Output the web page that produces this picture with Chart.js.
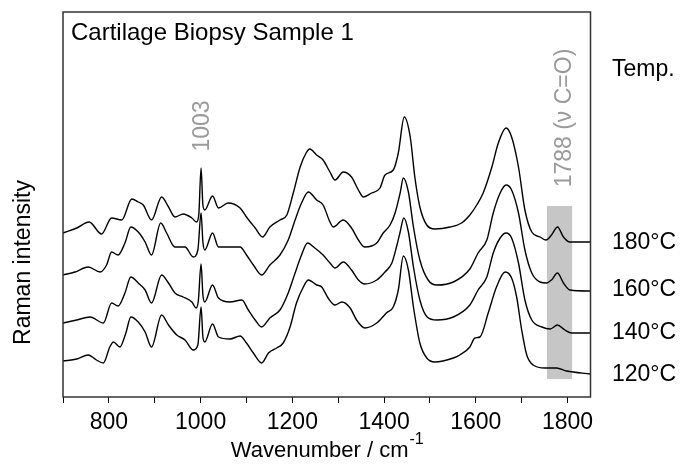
<!DOCTYPE html>
<html>
<head>
<meta charset="utf-8">
<script src="https://cdn.jsdelivr.net/npm/chart.js@4.4.1/dist/chart.umd.min.js"></script>
<style>
  html, body { margin: 0; padding: 0; background: #fff; }
</style>
</head>
<body>
<canvas id="spectra" width="684" height="472"></canvas>
<script>
  // Wavenumber (cm-1) and intensity (a.u., offset traces)
  const wn180 = [700, 730, 757, 784, 806, 828, 850, 864, 875, 893, 915, 930, 944, 962, 981, 991, 996, 1001, 1005, 1009, 1026, 1039, 1060, 1086, 1100, 1119, 1135, 1151, 1173, 1188, 1202, 1217, 1230, 1238, 1253, 1267, 1282, 1293, 1311, 1329, 1344, 1355, 1373, 1391, 1402, 1420, 1431, 1444, 1457, 1467, 1478, 1493, 1511, 1544, 1569, 1587, 1602, 1616, 1635, 1649, 1666, 1678, 1693, 1707, 1722, 1740, 1753, 1765, 1778, 1791, 1805, 1850];
  const int180 = [164, 169, 175, 163, 179, 177, 198, 195, 192, 177, 200, 190, 180, 183, 179, 175, 182, 229, 192, 187, 201, 189, 194, 189, 180, 169, 160, 170, 177, 182, 204, 230, 244, 248, 242, 237, 225, 217, 225, 220, 207, 200, 204, 209, 222, 227, 244, 280, 260, 220, 190, 172, 168, 170, 174, 182, 192, 204, 230, 254, 269, 260, 230, 187, 165, 160, 157, 162, 170, 160, 155, 155];

  const wn160 = [700, 726, 755, 781, 795, 806, 820, 835, 848, 864, 879, 893, 913, 926, 944, 966, 984, 994, 1001, 1005, 1009, 1026, 1039, 1064, 1086, 1100, 1115, 1133, 1151, 1173, 1191, 1206, 1220, 1235, 1253, 1267, 1282, 1289, 1311, 1329, 1344, 1358, 1384, 1398, 1413, 1424, 1435, 1442, 1453, 1464, 1478, 1496, 1515, 1551, 1587, 1605, 1624, 1638, 1653, 1666, 1678, 1693, 1707, 1722, 1740, 1754, 1765, 1778, 1791, 1805, 1850];
  const int160 = [122, 125, 130, 125, 132, 145, 142, 154, 170, 165, 155, 142, 174, 164, 150, 150, 140, 147, 184, 155, 147, 164, 150, 150, 150, 142, 132, 122, 132, 142, 157, 177, 194, 205, 197, 192, 175, 170, 177, 169, 157, 150, 154, 164, 172, 184, 204, 219, 205, 170, 137, 117, 112, 115, 128, 144, 157, 184, 204, 212, 207, 184, 147, 124, 115, 114, 117, 124, 114, 107, 106];

  const wn140 = [700, 730, 759, 788, 806, 820, 835, 848, 864, 879, 893, 915, 930, 944, 962, 981, 990, 995, 1001, 1005, 1009, 1026, 1039, 1064, 1090, 1104, 1119, 1133, 1151, 1173, 1191, 1206, 1220, 1233, 1249, 1267, 1282, 1293, 1311, 1329, 1344, 1358, 1384, 1402, 1417, 1427, 1435, 1443, 1453, 1464, 1478, 1494, 1515, 1551, 1587, 1605, 1624, 1638, 1653, 1666, 1678, 1693, 1707, 1722, 1744, 1762, 1778, 1794, 1809, 1850];
  const int140 = [74, 77, 80, 74, 94, 91, 104, 120, 114, 107, 94, 122, 114, 104, 100, 95, 89, 96, 133, 102, 95, 112, 99, 95, 97, 87, 77, 70, 79, 87, 104, 124, 142, 154, 149, 142, 134, 129, 135, 127, 117, 113, 117, 125, 134, 150, 165, 179, 165, 130, 97, 80, 77, 80, 92, 107, 120, 144, 159, 164, 159, 134, 97, 77, 70, 68, 72, 67, 64, 64];

  const wn120 = [700, 730, 755, 773, 788, 802, 810, 824, 837, 848, 864, 879, 893, 915, 930, 948, 966, 984, 994, 1001, 1005, 1009, 1026, 1039, 1064, 1086, 1100, 1115, 1133, 1148, 1166, 1180, 1195, 1209, 1224, 1235, 1253, 1264, 1278, 1293, 1308, 1326, 1340, 1358, 1384, 1405, 1420, 1431, 1442, 1453, 1464, 1478, 1493, 1511, 1551, 1565, 1587, 1598, 1609, 1627, 1645, 1664, 1678, 1689, 1700, 1711, 1725, 1751, 1776, 1798, 1850];
  const int120 = [36, 38, 42, 37, 34, 50, 55, 50, 64, 80, 75, 65, 50, 82, 72, 62, 57, 47, 52, 90, 60, 55, 73, 60, 58, 61, 54, 44, 34, 44, 49, 54, 70, 94, 110, 117, 112, 110, 99, 92, 95, 89, 77, 69, 74, 84, 90, 107, 141, 127, 90, 54, 39, 35, 39, 42, 50, 59, 60, 84, 110, 125, 119, 100, 67, 42, 32, 29, 29, 26, 23];

  const xTicks = [700, 800, 900, 1000, 1100, 1200, 1300, 1400, 1500, 1600, 1700, 1800];
  const tempLabels = ["180°C", "160°C", "140°C", "120°C"];

  // highlighted C=O band
  const bandFrom = 1755, bandTo = 1810, bandLow = 18, bandHigh = 191;

  const FONT = '"Liberation Sans", Arial, sans-serif';

  function pairs(xs, ys) {
    return xs.map((x, i) => ({ x: x, y: ys[i] }));
  }

  const decor = {
    id: "decor",
    beforeDatasetsDraw(chart) {
      const { ctx, scales } = chart;
      const x = scales.x, y = scales.y;
      ctx.save();
      ctx.fillStyle = "#c6c6c6";
      const l = x.getPixelForValue(bandFrom), r = x.getPixelForValue(bandTo);
      const t = y.getPixelForValue(bandHigh), b = y.getPixelForValue(bandLow);
      ctx.fillRect(l, t, r - l, b - t);
      ctx.restore();
    },
    afterDraw(chart) {
      const { ctx, chartArea: a } = chart;
      ctx.save();
      // frame
      ctx.strokeStyle = "#333";
      ctx.lineWidth = 1.5;
      ctx.strokeRect(a.left, a.top, a.right - a.left, a.bottom - a.top);

      ctx.fillStyle = "#000";
      ctx.textBaseline = "alphabetic";
      ctx.font = "24px " + FONT;
      ctx.textAlign = "left";
      ctx.fillText("Cartilage Biopsy Sample 1", a.left + 8, 40);

      // right side labels
      ctx.font = "23px " + FONT;
      ctx.fillText("Temp.", 612, 76);
      const ys = [249, 296, 339, 381];
      tempLabels.forEach((s, i) => ctx.fillText(s, 612, ys[i]));

      // x axis title with superscript
      const main = "Wavenumber / cm";
      ctx.font = "22px " + FONT;
      const w1 = ctx.measureText(main).width;
      ctx.font = "16px " + FONT;
      const w2 = ctx.measureText("-1").width;
      const cx = (a.left + a.right) / 2;
      const sx = cx - (w1 + w2) / 2;
      ctx.font = "22px " + FONT;
      ctx.fillText(main, sx, 457);
      ctx.font = "16px " + FONT;
      ctx.fillText("-1", sx + w1 + 1, 444);

      // y axis title
      ctx.font = "23px " + FONT;
      ctx.translate(30, (a.top + a.bottom) / 2 + 58);
      ctx.rotate(-Math.PI / 2);
      ctx.textAlign = "center";
      ctx.fillText("Raman intensity", 0, 0);
      ctx.restore();

      // gray rotated peak labels
      ctx.save();
      ctx.fillStyle = "#9a9a9a";
      ctx.font = "23px " + FONT;
      ctx.textAlign = "center";
      ctx.translate(209, 126);
      ctx.rotate(-Math.PI / 2);
      ctx.fillText("1003", 0, 0);
      ctx.restore();

      ctx.save();
      ctx.fillStyle = "#9a9a9a";
      ctx.font = "23px " + FONT;
      ctx.textAlign = "center";
      ctx.translate(571, 118);
      ctx.rotate(-Math.PI / 2);
      ctx.fillText("1788 (\u03BD C=O)", 0, 0);
      ctx.restore();
    }
  };

  const lineStyle = {
    borderColor: "#000",
    borderWidth: 1.4,
    pointRadius: 0,
    fill: false,
    cubicInterpolationMode: "monotone"
  };

  new Chart(document.getElementById("spectra"), {
    type: "line",
    data: {
      datasets: [
        Object.assign({ label: tempLabels[0], data: pairs(wn180, int180) }, lineStyle),
        Object.assign({ label: tempLabels[1], data: pairs(wn160, int160) }, lineStyle),
        Object.assign({ label: tempLabels[2], data: pairs(wn140, int140) }, lineStyle),
        Object.assign({ label: tempLabels[3], data: pairs(wn120, int120) }, lineStyle)
      ]
    },
    options: {
      responsive: false,
      animation: false,
      layout: { padding: { left: 63, right: 93.5, top: 12, bottom: 0 } },
      plugins: {
        legend: { display: false },
        tooltip: { enabled: false }
      },
      scales: {
        x: {
          type: "linear",
          min: 700,
          max: 1850,
          afterBuildTicks(scale) {
            scale.ticks = xTicks.map(v => ({ value: v }));
          },
          afterFit(scale) {
            scale.height = 75;
          },
          border: { display: false },
          grid: {
            display: true,
            drawOnChartArea: false,
            drawTicks: true,
            tickLength: 6,
            color: "#000",
            lineWidth: 1
          },
          ticks: {
            autoSkip: false,
            maxRotation: 0,
            padding: 6,
            color: "#000",
            font: { family: FONT, size: 23 },
            callback: v => (v % 200 === 0 ? String(v) : "")
          }
        },
        y: {
          display: false,
          min: 0,
          max: 385
        }
      }
    },
    plugins: [decor]
  });
</script>
</body>
</html>
